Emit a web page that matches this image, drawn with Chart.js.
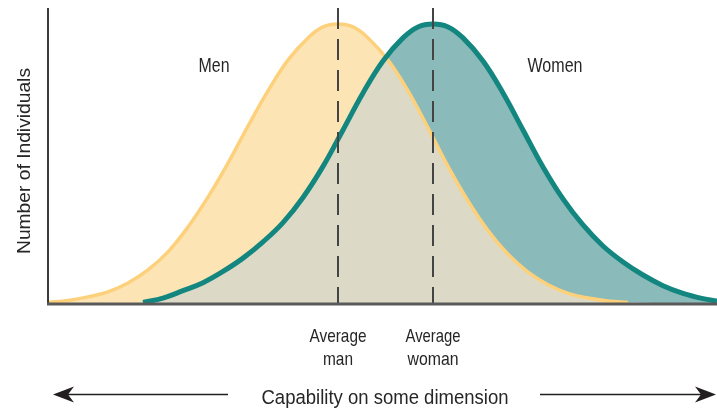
<!DOCTYPE html>
<html>
<head>
<meta charset="utf-8">
<script src="https://cdn.jsdelivr.net/npm/chart.js@4.4.1/dist/chart.umd.min.js"></script>
<style>
  html, body { margin: 0; padding: 0; background: #fff; }
  #wrap { width: 717px; height: 410px; }
</style>
</head>
<body>
<div id="wrap"><canvas id="chart" width="717" height="410"></canvas></div>
<script>
// capability (x, 1 unit = one step on the dimension) and share of individuals (y, %)
const menX = [0, 2, 4, 6, 8, 10, 12, 14, 16, 18, 20, 22, 24, 26, 27.5, 29, 30.5, 32, 34, 36, 38, 40, 42, 44, 46, 48, 50, 52, 54, 56, 58];
const menY = [0.5, 1.2, 2.4, 4.1, 7.1, 11.5, 17.6, 26.0, 36.1, 47.6, 60.1, 72.0, 82.4, 89.9, 93.6, 94.6, 93.6, 89.9, 82.4, 72.0, 59.5, 46.5, 34.8, 24.8, 16.8, 10.8, 6.5, 3.6, 2.0, 1.0, 0.5];
const womenX = [9.5, 11.5, 13.5, 15.5, 17.5, 19.5, 21.5, 23.5, 25.5, 27.5, 29.5, 31.5, 33.5, 35.5, 37, 38.5, 40, 41.5, 43.5, 45.5, 47.5, 49.5, 51.5, 53.5, 55.5, 57.5, 59.5, 61.5, 63.5, 65.5, 66.9];
const womenY = [0.5, 2.0, 4.5, 7.2, 11.0, 15.5, 21.0, 27.5, 36.0, 46.5, 58.8, 71.3, 82.1, 89.9, 93.6, 94.6, 93.6, 89.9, 82.1, 71.3, 58.8, 46.3, 35.5, 26.7, 19.6, 14.2, 9.8, 6.2, 3.6, 1.8, 1.0];
const averages = [29, 38.5];              // average man, average woman
const averageLabels = [["Average", "man"], ["Average", "woman"]];
const groupLabels = ["Men", "Women"];
const xMax = 66.9;
const yMax = 100;

const toPoints = (xs, ys) => xs.map((x, i) => ({ x: x, y: ys[i] }));
const menPts = toPoints(menX, menY);
const womenPts = toPoints(womenX, womenY);
// men curve carried on at zero to the end of the axis, only used as a fill boundary
const menFillPts = menPts.concat([{ x: xMax, y: 0 }]);

const YELLOW_LINE = '#fdd17c';
const YELLOW_FILL = '#fde4b4';
const OVERLAP_FILL = '#dcdac6';
const TEAL_FILL = '#8bbaba';
const TEAL_LINE = '#13877f';
const INK = '#262626';
const TENSION = 0.4;

const FONT = '"Liberation Sans", Arial, sans-serif';

function fitText(ctx, text, x, y, size, width) {
  ctx.font = size + 'px ' + FONT;
  const w = ctx.measureText(text).width;
  ctx.save();
  ctx.translate(x, y);
  ctx.scale(width / w, 1);
  ctx.textAlign = 'center';
  ctx.textBaseline = 'alphabetic';
  ctx.fillText(text, 0, 0);
  ctx.restore();
}

function arrowHead(ctx, x, y, dir) {
  ctx.beginPath();
  ctx.moveTo(x, y);
  ctx.lineTo(x - dir * 21, y - 8);
  ctx.lineTo(x - dir * 15, y);
  ctx.lineTo(x - dir * 21, y + 8);
  ctx.closePath();
  ctx.fill();
}

const decor = {
  id: 'decor',
  afterDatasetsDraw(chart) {
    const ctx = chart.ctx;
    const a = chart.chartArea;
    ctx.save();
    // axes
    ctx.strokeStyle = '#3c3c3c';
    ctx.lineWidth = 2;
    ctx.beginPath();
    ctx.moveTo(a.left, a.top);
    ctx.lineTo(a.left, a.bottom);
    ctx.stroke();
    ctx.strokeStyle = '#5a5a5a';
    ctx.lineWidth = 3;
    ctx.beginPath();
    ctx.moveTo(a.left - 1, a.bottom);
    ctx.lineTo(a.right, a.bottom);
    ctx.stroke();
    ctx.restore();
  },
  afterDraw(chart) {
    const ctx = chart.ctx;
    const xs = chart.scales.x;
    ctx.save();
    ctx.fillStyle = INK;
    // group names
    fitText(ctx, groupLabels[0], 214, 72, 19.5, 31);
    fitText(ctx, groupLabels[1], 555, 72, 19.5, 55);
    // average labels under the dashed lines
    const widths = [[57, 30], [55, 51]];
    averages.forEach((v, i) => {
      const px = xs.getPixelForValue(v);
      fitText(ctx, averageLabels[i][0], px, 342, 19, widths[i][0]);
      fitText(ctx, averageLabels[i][1], px, 365, 19, widths[i][1]);
    });
    // y axis title
    ctx.save();
    ctx.translate(30, 161);
    ctx.rotate(-Math.PI / 2);
    fitText(ctx, 'Number of Individuals', 0, 0, 19, 186);
    ctx.restore();
    // x axis title with arrows
    fitText(ctx, 'Capability on some dimension', 385, 404, 20.5, 247);
    ctx.strokeStyle = '#231f20';
    ctx.fillStyle = '#231f20';
    ctx.lineWidth = 1.6;
    ctx.beginPath();
    ctx.moveTo(64, 394.5);
    ctx.lineTo(228, 394.5);
    ctx.moveTo(540, 394.5);
    ctx.lineTo(705, 394.5);
    ctx.stroke();
    arrowHead(ctx, 53, 394.5, -1);
    arrowHead(ctx, 716, 394.5, 1);
    ctx.restore();
  }
};

const dashed = averages.map(v => ({
  data: [{ x: v, y: yMax }, { x: v, y: 0 }],
  borderColor: '#444',
  borderWidth: 2,
  borderDash: [21, 10],
  pointRadius: 0,
  fill: false,
  order: 0
}));

new Chart(document.getElementById('chart'), {
  type: 'line',
  data: {
    datasets: [
      // 0: men area (yellow)
      { data: menFillPts, borderWidth: 0, pointRadius: 0, fill: 'origin',
        backgroundColor: YELLOW_FILL, tension: TENSION, order: 6 },
      // 1: women area where both overlap (grey)
      { data: womenPts, borderWidth: 0, pointRadius: 0, fill: 'origin',
        backgroundColor: OVERLAP_FILL, tension: TENSION, order: 5 },
      // 2: women area above men (teal)
      { data: womenPts, borderWidth: 0, pointRadius: 0,
        fill: { target: 0, above: TEAL_FILL, below: 'rgba(0,0,0,0)' },
        backgroundColor: TEAL_FILL, tension: TENSION, order: 4 },
      // 3: men curve
      { data: menPts, borderColor: YELLOW_LINE, borderWidth: 3.5, pointRadius: 0, fill: false,
        tension: TENSION, order: 3 },
      // 4: women curve
      { data: womenPts, borderColor: TEAL_LINE, borderWidth: 5, pointRadius: 0, fill: false,
        tension: TENSION, borderCapStyle: 'butt', order: 2 },
      ...dashed
    ]
  },
  options: {
    responsive: false,
    animation: false,
    devicePixelRatio: 1,
    layout: { padding: { left: 48, top: 8, right: 0, bottom: 106 } },
    plugins: {
      legend: { display: false },
      tooltip: { enabled: false },
      title: { display: false }
    },
    scales: {
      x: { type: 'linear', min: 0, max: xMax, display: false },
      y: { type: 'linear', min: 0, max: yMax, display: false }
    }
  },
  plugins: [decor]
});
</script>
</body>
</html>
